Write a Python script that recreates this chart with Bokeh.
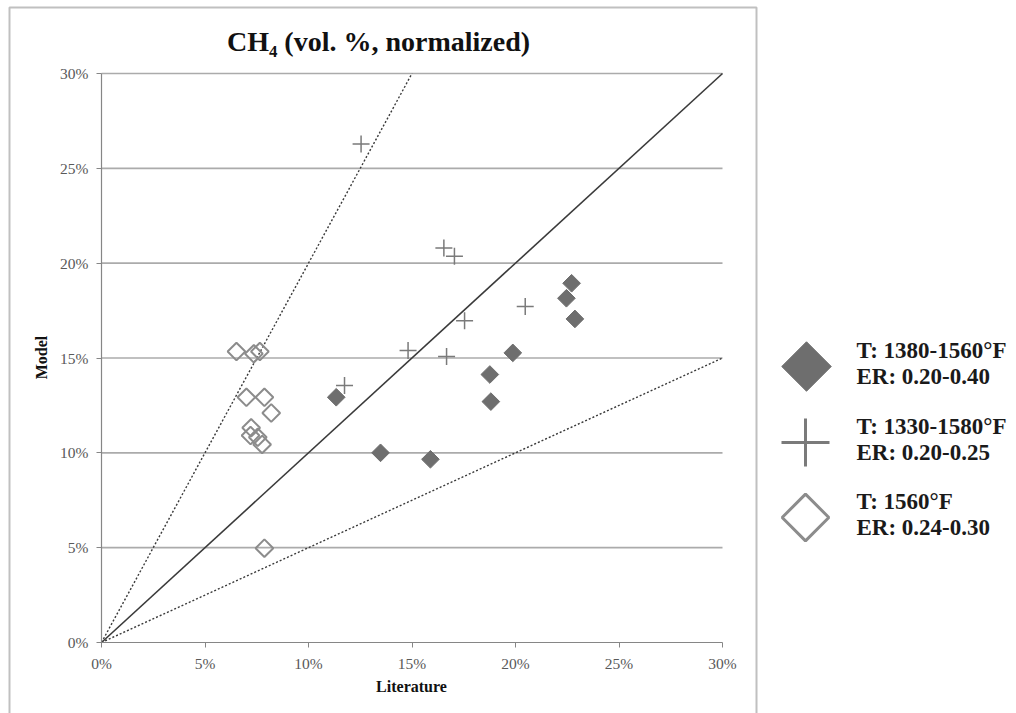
import math
from bokeh.plotting import figure
from bokeh.models import Range1d, LinearAxis, FixedTicker, PrintfTickFormatter
from bokeh.core.properties import value
from bokeh.embed import file_html
from bokeh.resources import INLINE

# ---------------- data (percent) ----------------
title_text = "CH\u2084 (vol. %, normalized)"
x_label = "Literature"
y_label = "Model"
tick_values = [0, 5, 10, 15, 20, 25, 30]
grid_values = [5, 10, 15, 20, 25, 30]
ratio_solid = [1.0]
ratio_dashed = [2.0, 0.5]
axis_max = 30

series_names = ["T: 1380-1560\u00b0F", "T: 1330-1580\u00b0F", "T: 1560\u00b0F"]
series_er = ["ER: 0.20-0.40", "ER: 0.20-0.25", "ER: 0.24-0.30"]

lit_a = [11.34, 13.48, 15.89, 18.76, 18.81, 19.87, 22.71, 22.46, 22.87]
mod_a = [12.93, 10.00, 9.66, 14.13, 12.70, 15.27, 18.94, 18.15, 17.06]

lit_b = [12.54, 11.74, 14.81, 16.67, 17.54, 20.47, 16.54, 17.05]
mod_b = [26.28, 13.55, 15.39, 15.08, 16.97, 17.71, 20.80, 20.36]

lit_c = [6.52, 7.36, 7.65, 7.00, 7.87, 8.20, 7.23, 7.20, 7.55, 7.76, 7.87]
mod_c = [15.34, 15.22, 15.34, 12.93, 12.93, 12.10, 11.32, 10.91, 10.82, 10.44, 4.97]

# ---------------- layout (pixels) ----------------
W, H = 1016, 713
X0PX, X1PX = 101, 722
Y0PX, Y1PX = 642, 73
SX = (X1PX - X0PX) / axis_max
SY = (Y0PX - Y1PX) / axis_max


def px(x):
    return (x - X0PX) / SX


def py(y):
    return (Y0PX - y) / SY


p = figure(width=W, height=H,
           x_range=Range1d(px(0), px(W)), y_range=Range1d(py(H), py(0)),
           output_backend="svg", toolbar_location=None,
           x_axis_location=None, y_axis_location=None,
           min_border=0, outline_line_color=None,
           background_fill_color="white", border_fill_color="white")
p.xgrid.visible = False
p.ygrid.visible = False

SERIF = value("Liberation Serif")
AXIS_COL = "#868686"
LABEL_COL = "#595959"

for loc in ("below", "left"):
    ax = LinearAxis(fixed_location=0, bounds=(0, axis_max),
                    ticker=FixedTicker(ticks=tick_values),
                    formatter=PrintfTickFormatter(format="%d%%"))
    ax.axis_line_color = AXIS_COL
    ax.axis_line_width = 1.2
    ax.major_tick_line_color = AXIS_COL
    ax.major_tick_in = 0
    ax.major_tick_out = 5
    ax.minor_tick_line_color = None
    ax.major_label_text_font = "Liberation Serif"
    ax.major_label_text_font_size = "15.5px"
    ax.major_label_text_color = LABEL_COL
    ax.major_label_standoff = 8 if loc == "left" else 7
    p.add_layout(ax, loc)

# chart-area border
p.quad(left=[px(9)], right=[px(756)], top=[py(7)], bottom=[py(730)],
       fill_color=None, line_color="#c0c0c0", line_width=2)

# horizontal gridlines
p.segment(x0=[0] * len(grid_values), y0=grid_values,
          x1=[axis_max] * len(grid_values), y1=grid_values,
          line_color="#ababab", line_width=1.6)

# reference lines
for r in ratio_solid:
    xe = min(axis_max, axis_max / r)
    p.line([0, xe], [0, xe * r], line_color="#3a3a3a", line_width=1.6)
for r in ratio_dashed:
    xe = min(axis_max, axis_max / r)
    p.line([0, xe], [0, xe * r], line_color="#3a3a3a", line_width=1.4,
           line_dash="2 2")

# data markers
p.scatter(lit_b, mod_b, marker="cross", size=17, line_color="#7a7a7a",
          line_width=1.5)
p.scatter(lit_c, mod_c, marker="square", angle=math.pi / 4, size=12.5,
          fill_color=None, line_color="#8c8c8c", line_width=2)
p.scatter(lit_a, mod_a, marker="square", angle=math.pi / 4, size=12.5,
          fill_color="#6e6e6e", line_color="#6e6e6e", line_width=1)

# title and axis titles
p.text(x=[px(378)], y=[py(41)], text=[title_text], text_font=SERIF,
       text_font_size="28px", text_font_style="bold", text_color="#111111",
       text_align="center", text_baseline="middle")
p.text(x=[px(411)], y=[py(686)], text=[x_label], text_font=SERIF,
       text_font_size="16px", text_font_style="bold", text_color="#111111",
       text_align="center", text_baseline="middle")
p.text(x=[px(41)], y=[py(357)], text=[y_label], text_font=SERIF,
       text_font_size="16px", text_font_style="bold", text_color="#111111",
       text_align="center", text_baseline="middle", angle=math.pi / 2)

# legend
leg_y = [366, 442, 517]
p.scatter([px(806)], [py(leg_y[0])], marker="square", angle=math.pi / 4,
          size=35, fill_color="#6e6e6e", line_color="#6e6e6e")
p.scatter([px(805)], [py(leg_y[1])], marker="cross", size=48,
          line_color="#7a7a7a", line_width=3)
p.scatter([px(805)], [py(leg_y[2])], marker="square", angle=math.pi / 4,
          size=33, fill_color=None, line_color="#8c8c8c", line_width=3)
for i, yy in enumerate(leg_y):
    p.text(x=[px(856), px(856)], y=[py(yy - 16), py(yy + 10)],
           text=[series_names[i], series_er[i]], text_font=SERIF,
           text_font_size="23px", text_font_style="bold",
           text_color="#1a1a1a", text_align="left", text_baseline="middle")

open("out.html", "w").write(file_html(p, INLINE))
